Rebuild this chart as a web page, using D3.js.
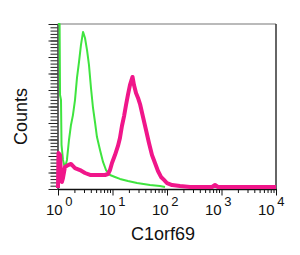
<!DOCTYPE html>
<html>
<head>
<meta charset="utf-8">
<script src="https://cdn.jsdelivr.net/npm/d3@7"></script>
<style>
    body { margin: 0; background: #fff; }
    text { font-family: "Liberation Sans", Arial, sans-serif; fill: #111; }
</style>
</head>
<body>
<div id="chart"></div>
<script>
// isotype control (green) - channel value vs counts
const controlX = [1.00, 1.07, 1.09, 1.135, 1.16, 1.235, 1.34, 1.46, 1.59, 1.73, 1.88, 2.05, 2.23, 2.43, 2.64, 2.88,
    3.13, 3.41, 3.70, 4.03, 4.39, 4.77, 5.19, 5.90, 6.70, 7.60, 9.00, 11.1, 13.7, 19.2, 28.2, 48.8, 74.4, 91.9];
const controlY = [100, 100, 57, 54, 26.7, 17.6, 12.7, 17.6, 29.7, 38.8, 44.8, 53.9, 67.3, 77, 87.3, 95.2,
    91.5, 84.2, 75.2, 61.2, 49.1, 40.6, 31.5, 23.6, 16.4, 11.5, 8.5, 7.3, 6.1, 4.8, 3.6, 2.4, 1.8, 1.2];

// C1orf69 stained (pink)
const stainX = [1.00, 1.02, 1.09, 1.135, 1.18, 1.235, 1.34, 1.53, 1.73, 2.05, 2.53, 3.13, 3.87, 4.77, 5.90, 7.28,
    8.27, 9.00, 9.79, 11.1, 12.6, 13.7, 14.9, 16.3, 17.7, 19.2, 20.9, 22.3, 23.3, 24.8, 27.0, 29.4, 32.0, 36.3,
    41.2, 46.7, 53.0, 60.2, 68.3, 77.6, 88.1, 100, 124, 173, 264, 670, 760, 863, 10000];
const stainY = [0.6, 21.8, 20.6, 8.5, 4.2, 6.7, 13.3, 14.5, 15.2, 12.7, 11.5, 9.7, 8.5, 8.5, 8.5, 8.5,
    9.1, 11.5, 15.8, 20.6, 26.1, 30.9, 38.2, 44.2, 50.9, 57, 63, 66, 67.9, 63, 58.2, 55.2, 51.5, 43.6,
    35.8, 27.9, 20.6, 15.8, 10.9, 7.3, 5.5, 3.6, 2.4, 1.8, 1.2, 1.2, 2.4, 1.2, 1.2];

const decades = [1, 10, 100, 1000, 10000];
const exponents = ["0", "1", "2", "3", "4"];
const xTitle = "C1orf69";
const yTitle = "Counts";

const width = 300, height = 255;
const plotLeft = 57.5, plotRight = 276, plotTop = 24, plotBottom = 189;

const svg = d3.select("#chart").append("svg")
    .attr("width", width)
    .attr("height", height);

const x = d3.scaleLog().domain([1, 10000]).range([58, plotRight]);
const y = d3.scaleLinear().domain([0, 100]).range([plotBottom, plotTop]);
const labelX = d3.scaleLog().domain([1, 10000]).range([46, 258]);

// frame top and right
svg.append("line")
    .attr("x1", plotLeft).attr("x2", plotRight)
    .attr("y1", plotTop).attr("y2", plotTop)
    .attr("stroke", "#777").attr("stroke-width", 1.2);
svg.append("line")
    .attr("x1", plotRight).attr("x2", plotRight)
    .attr("y1", plotTop).attr("y2", plotBottom)
    .attr("stroke", "#333").attr("stroke-width", 1.5);

// minor ticks along x
const minorX = [];
decades.slice(0, -1).forEach(d => {
    for (let k = 2; k <= 9; k++) minorX.push(d * k);
});

svg.append("g")
    .attr("transform", "translate(0," + plotBottom + ")")
    .call(d3.axisBottom(x).tickValues(minorX).tickSize(4).tickFormat(""))
    .call(g => g.select(".domain").remove())
    .selectAll("line").attr("stroke", "#111");

svg.append("g")
    .attr("transform", "translate(0," + plotBottom + ")")
    .call(d3.axisBottom(x).tickValues(decades).tickSize(6.5).tickFormat("").tickSizeOuter(0))
    .call(g => g.select(".domain").attr("stroke", "#111").attr("stroke-width", 1.3))
    .selectAll("line").attr("stroke", "#111");

// y ticks
svg.append("g")
    .attr("transform", "translate(" + plotLeft + ",0)")
    .call(d3.axisLeft(y).tickValues(d3.range(0, 101, 2)).tickSize(7).tickFormat("").tickSizeOuter(0))
    .call(g => g.select(".domain").attr("stroke", "#111").attr("stroke-width", 1.3))
    .selectAll("line").attr("stroke", "#222");

svg.append("g")
    .attr("transform", "translate(" + plotLeft + ",0)")
    .call(d3.axisLeft(y).tickValues(d3.range(0, 101, 10)).tickSize(9).tickFormat(""))
    .call(g => g.select(".domain").remove())
    .selectAll("line").attr("stroke", "#222");

// decade labels 10^n
const lbl = svg.selectAll(".dec")
    .data(decades)
    .enter()
    .append("text")
    .attr("class", "dec")
    .attr("x", d => labelX(d))
    .attr("y", 215)
    .style("font-size", "15px");
lbl.append("tspan").text("10");
lbl.append("tspan")
    .attr("dx", 2.5)
    .attr("dy", -9)
    .style("font-size", "13px")
    .text((d, i) => exponents[i]);

// curves
const line = d3.line()
    .x(d => x(d[0]))
    .y(d => y(d[1]));

svg.append("path")
    .datum(d3.zip(controlX, controlY))
    .attr("d", line)
    .attr("fill", "none")
    .attr("stroke", "#3fe43f")
    .attr("stroke-width", 2)
    .attr("stroke-linejoin", "round");

svg.append("path")
    .datum(d3.zip(stainX, stainY))
    .attr("d", line)
    .attr("fill", "none")
    .attr("stroke", "#f0168a")
    .attr("stroke-width", 4)
    .attr("stroke-linejoin", "round");

// titles
svg.append("text")
    .attr("transform", "translate(27," + ((plotTop + plotBottom) / 2 + 10) + ") rotate(-90)")
    .attr("text-anchor", "middle")
    .style("font-size", "18px")
    .text(yTitle);

svg.append("text")
    .attr("x", 163)
    .attr("y", 240)
    .attr("text-anchor", "middle")
    .style("font-size", "18px")
    .text(xTitle);
</script>
</body>
</html>
